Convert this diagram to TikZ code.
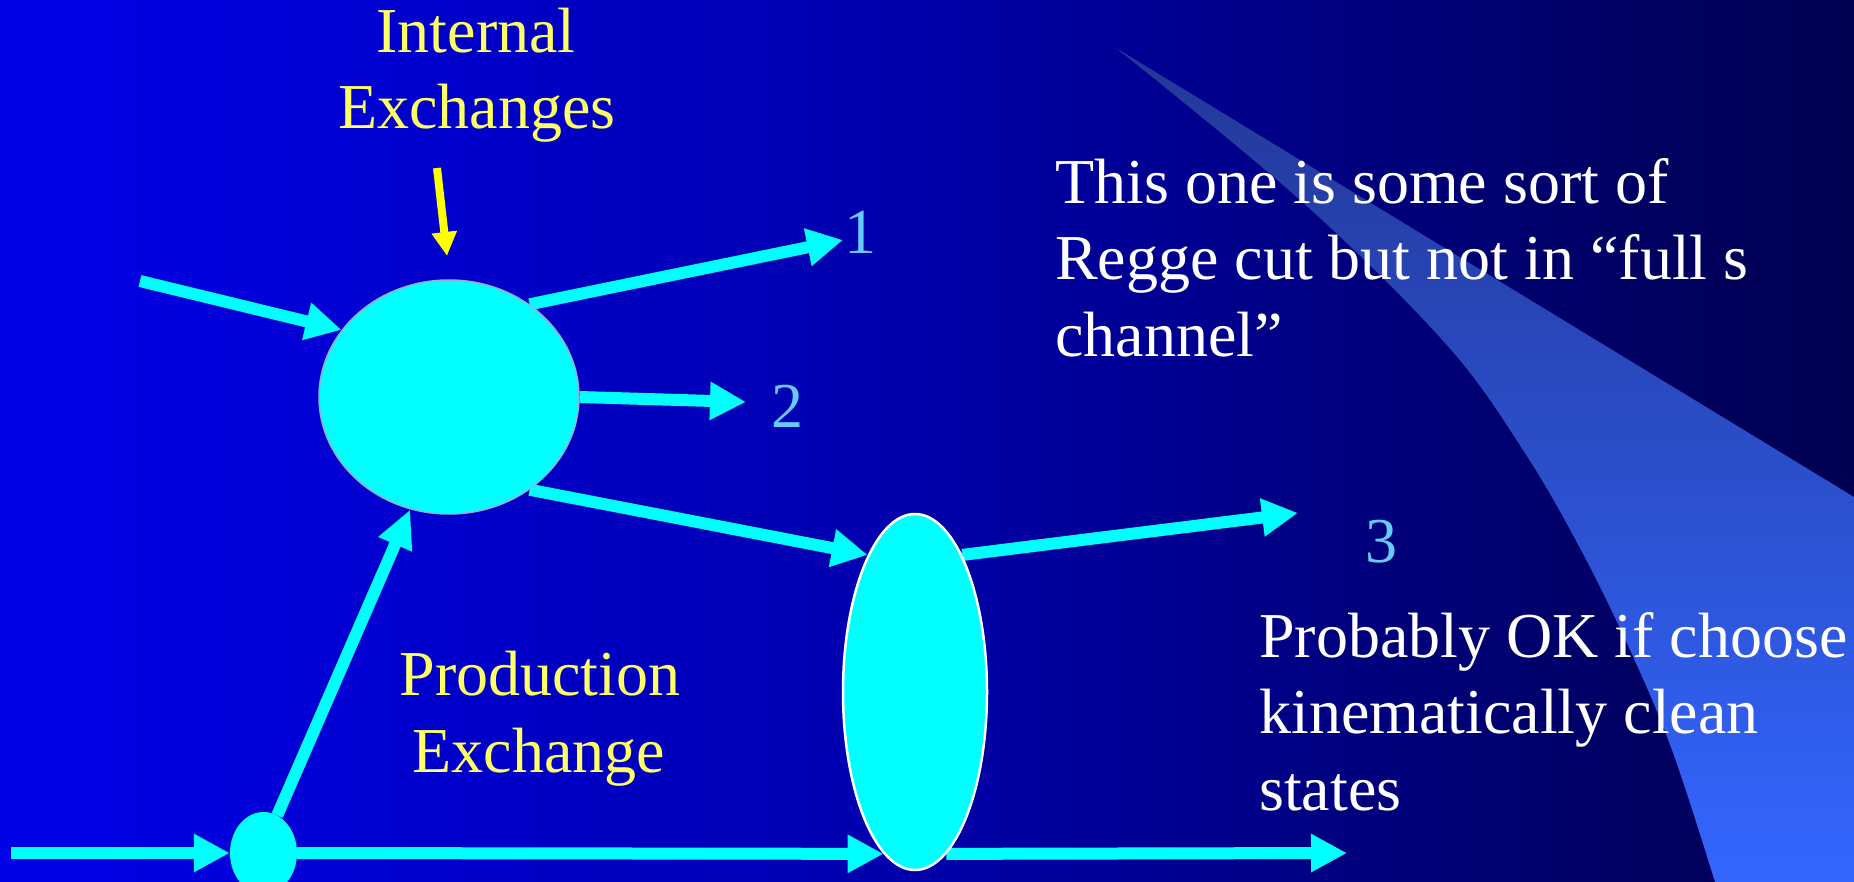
\documentclass[tikz,border=0pt]{standalone}
\usepackage{fontspec}
\setmainfont{Liberation Serif}
\newfontfamily\slidefont{Liberation Serif}
\usetikzlibrary{arrows.meta,shapes.geometric}
\definecolor{bg0}{RGB}{0,0,250}
\definecolor{bg1}{RGB}{0,0,228}
\definecolor{bg2}{RGB}{0,0,175}
\definecolor{bg3}{RGB}{0,0,95}
\definecolor{bg4}{RGB}{0,0,12}
\definecolor{aqua}{RGB}{0,255,255}
\definecolor{labelyellow}{RGB}{255,255,102}
\definecolor{arrowyellow}{RGB}{255,255,0}
\definecolor{numblue}{RGB}{102,204,255}
\definecolor{ellline}{RGB}{150,175,225}
\definecolor{beamtop}{RGB}{35,55,150}
\definecolor{beammid}{RGB}{46,90,215}
\definecolor{beambot}{RGB}{51,102,255}
\pgfdeclarehorizontalshading{bgshade}{100bp}{color(0bp)=(bg0); color(27bp)=(bg1); color(48.5bp)=(bg2); color(70bp)=(bg3); color(100bp)=(bg4)}
\pgfdeclarelayer{back}
\pgfdeclarelayer{arrowlayer}
\pgfsetlayers{back,arrowlayer,main}
\begin{document}
\begin{tikzpicture}[x=1pt,y=-1pt,
  txt/.style={inner sep=0pt, font=\slidefont\fontsize{64}{76.8}\selectfont},
  ylab/.style={txt, text=labelyellow, anchor=base},
  wlab/.style={txt, text=white, anchor=base west},
  nlab/.style={txt, text=numblue, anchor=base west},
  flow/.style={line width=12pt, color=aqua, -{Triangle[length=36pt,width=36pt]}},
  thinflow/.style={line width=12pt, color=aqua, -{Triangle[length=38pt,width=34pt]}},
  yflow/.style={line width=8pt, color=arrowyellow, -{Triangle[length=24pt,width=24pt]}},
  blob/.style={ellipse, inner sep=0pt, fill=aqua}]
\useasboundingbox (0,0) rectangle (1854,882);
\begin{pgfonlayer}{back}
\shade[shading=bgshade] (0,0) rectangle (1854,882);
\shade[top color=beamtop, middle color=beammid, bottom color=beambot]
  (1116,48) -- (1854,497) -- (1854,882) -- plot[smooth,tension=0.6] coordinates {(1715,882) (1672,750) (1630,650) (1581,550) (1523,450) (1445,343) (1300,200) (1116,48)} -- cycle;
\end{pgfonlayer}

\node[blob, draw=ellline, line width=1.5pt, minimum width=260pt, minimum height=234pt] (big) at (449,397) {};
\node[blob, draw=white, line width=2.5pt, minimum width=144pt, minimum height=356pt] (tall) at (915,692) {};
\node[blob, minimum width=67pt, minimum height=82pt] (small) at (263.5,853) {};

\coordinate (in1) at (140,281);
\coordinate (in2) at (11,853);
\coordinate (o1) at (843,240);
\coordinate (o2) at (746,402);
\coordinate (o3) at (1298,513);
\coordinate (o4) at (1347,853);
\coordinate (ytail) at (437,168);
\coordinate (yhead) at (447,256);

\begin{pgfonlayer}{arrowlayer}
\draw[flow] (in1) -- (big.148);
\draw[flow] (big.49) -- (o1);
\draw[flow] (big.east) -- (o2);
\draw[flow] (big.-49) -- (tall.109);
\draw[flow] (tall.71) -- (o3);
\draw[thinflow] (small.70) -- (big.-109);
\draw[flow] (in2) -- (small.west);
\draw[flow] (small.east) -- (tall.-101);
\draw[flow] (tall.-79) -- (o4);
\draw[yflow] (ytail) -- (yhead);
\end{pgfonlayer}

\node[ylab] (int1) at (476,53) {Internal};
\node[ylab] (int2) at (477,129) {Exchanges};
\node[ylab] (prod1) at (540,695) {Production};
\node[ylab] (prod2) at (539,772) {Exchange};
\node[wlab] (r1) at (1055,204) {This one is some sort of};
\node[wlab] (r2) at (1055,280) {Regge cut but not in “full s};
\node[wlab] (r3) at (1055,356) {channel”};
\node[wlab] (p1) at (1259,657) {Probably OK if choose};
\node[wlab] (p2) at (1259,733) {kinematically clean};
\node[wlab] (p3) at (1259,810) {states};
\node[nlab] (n1) at (844,254) {1};
\node[nlab] (n2) at (771,427) {2};
\node[nlab] (n3) at (1365,562) {3};
\end{tikzpicture}
\end{document}
